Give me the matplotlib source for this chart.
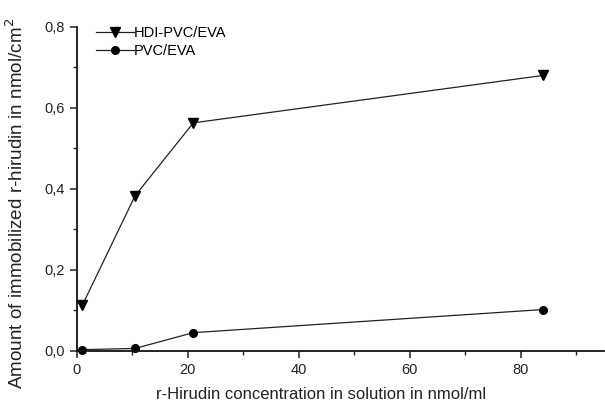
import matplotlib
matplotlib.use("Agg")
import matplotlib.pyplot as plt
from matplotlib.ticker import MultipleLocator, FuncFormatter

plt.rcParams['font.family'] = ['Liberation Sans', 'DejaVu Sans']

# r-Hirudin concentration (nmol/ml)
conc = [1, 10.5, 21, 84]
# immobilized amount (nmol/cm2)
hdi_pvc_eva = [0.113, 0.383, 0.563, 0.680]
pvc_eva = [0.003, 0.006, 0.045, 0.102]

fig = plt.figure(figsize=(6.05, 4.01), dpi=100)
ax = fig.add_axes([0.127, 0.125, 0.871, 0.808])

ax.plot(conc, hdi_pvc_eva, color='#222222', lw=0.9, marker='v', ms=6.5,
        mfc='black', mec='black', label='HDI-PVC/EVA', clip_on=False)
ax.plot(conc, pvc_eva, color='#222222', lw=0.9, marker='o', ms=5.5,
        mfc='black', mec='black', label='PVC/EVA', clip_on=False)

ax.set_xlim(0, 95)
ax.set_ylim(0, 0.8)
ax.xaxis.set_major_locator(MultipleLocator(20))
ax.xaxis.set_minor_locator(MultipleLocator(10))
ax.yaxis.set_major_locator(MultipleLocator(0.2))
ax.yaxis.set_minor_locator(MultipleLocator(0.1))
ax.yaxis.set_major_formatter(FuncFormatter(lambda v, p: f"{v:.1f}".replace('.', ',')))

for s in ['top', 'right']:
    ax.spines[s].set_visible(False)
for s in ['left', 'bottom']:
    ax.spines[s].set_linewidth(1.3)
    ax.spines[s].set_color('#111111')

ax.tick_params(which='major', direction='out', length=5, width=1.1, labelsize=10.5, colors='#222222')
ax.tick_params(which='minor', direction='out', length=3, width=1.0, colors='#222222')

ax.set_xlabel('r-Hirudin concentration in solution in nmol/ml', fontsize=12, color='#222222')
ax.set_ylabel('Amount of immobilized r-hirudin in nmol/cm$^2$', fontsize=13.6, color='#222222')
# label placement as in the original (slightly off-centre)
ax.xaxis.set_label_coords(0.464, -0.113)
ax.yaxis.set_label_coords(-0.094, 0.455)

ax.legend(loc='upper left', bbox_to_anchor=(0.025, 1.02), frameon=False, fontsize=10.5,
          handlelength=2.6, handletextpad=0.0, labelspacing=0.25, borderaxespad=0)

fig.savefig('out.png', dpi=100)
